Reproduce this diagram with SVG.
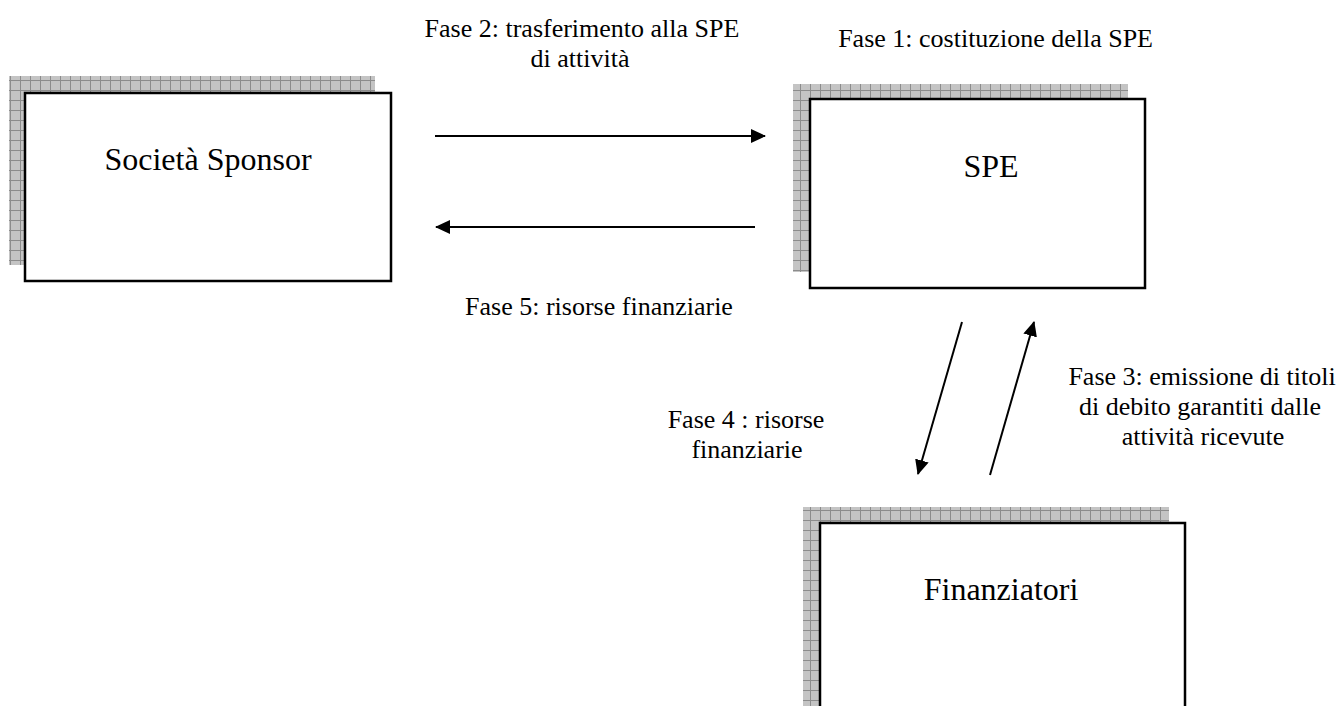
<svg xmlns="http://www.w3.org/2000/svg" width="1343" height="706" viewBox="0 0 1343 706">
<style>
.box{fill:#fff;stroke:#000;stroke-width:2.5}
.shadow{fill:url(#grid)}
.lbl{font-family:"Liberation Serif",serif;font-size:32px;fill:#000;text-anchor:middle}
.txt{font-family:"Liberation Serif",serif;font-size:26px;fill:#000;text-anchor:middle}
.conn{stroke:#000;stroke-width:2;fill:none;marker-end:url(#ah)}
</style>
<defs>
<pattern id="grid" width="10" height="10" patternUnits="userSpaceOnUse">
<rect width="10" height="10" fill="#c4c4c4"/>
<path d="M0 0.5H10M0.5 0V10" stroke="#8c8c8c" stroke-width="1"/>
</pattern>
<marker id="ah" markerWidth="15" markerHeight="14" refX="14" refY="7" orient="auto" markerUnits="userSpaceOnUse" viewBox="0 0 15 14">
<path d="M0 0L15 7L0 14Z" fill="#000"/>
</marker>
</defs>
<g id="node-sponsor">
<rect class="shadow" x="9" y="76" width="366" height="189"/>
<rect class="box" x="25" y="93" width="366" height="188"/>
<text class="lbl" x="208" y="170">Società Sponsor</text>
</g>
<g id="node-spe">
<rect class="shadow" x="793" y="84" width="335" height="188"/>
<rect class="box" x="810" y="99" width="335" height="189"/>
<text class="lbl" x="991" y="177">SPE</text>
</g>
<g id="node-finanziatori">
<rect class="shadow" x="803" y="507" width="366" height="210"/>
<rect class="box" x="820" y="523" width="365" height="200"/>
<text class="lbl" x="1001" y="600">Finanziatori</text>
</g>
<g id="connectors">
<line class="conn" x1="435" y1="136" x2="765" y2="136"/>
<line class="conn" x1="755" y1="227" x2="436" y2="227"/>
<line class="conn" x1="962" y1="322" x2="918" y2="474"/>
<line class="conn" x1="990" y1="475" x2="1034" y2="322"/>
</g>
<g id="labels">
<text class="txt" x="582" y="37">Fase 2: trasferimento alla SPE</text>
<text class="txt" x="580" y="67">di attività</text>
<text class="txt" x="1153" y="47" style="text-anchor:end">Fase 1: costituzione della SPE</text>
<text class="txt" x="599" y="315">Fase 5: risorse finanziarie</text>
<text class="txt" x="746" y="428">Fase 4 : risorse</text>
<text class="txt" x="747" y="458">finanziarie</text>
<text class="txt" x="1202" y="385">Fase 3: emissione di titoli</text>
<text class="txt" x="1200" y="415">di debito garantiti dalle</text>
<text class="txt" x="1203" y="445">attività ricevute</text>
</g>
</svg>
